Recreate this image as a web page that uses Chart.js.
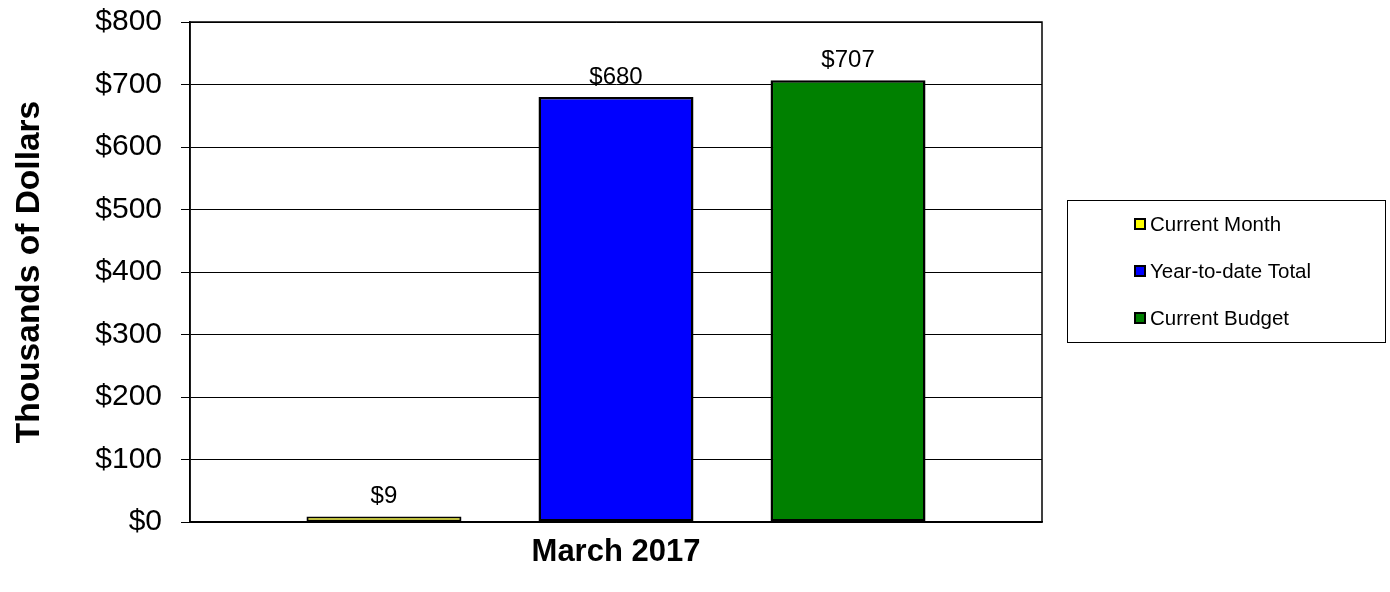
<!DOCTYPE html>
<html>
<head>
<meta charset="utf-8">
<script src="https://cdn.jsdelivr.net/npm/chart.js@4"></script>
<style>
  body { margin: 0; background: #fff; }
  #wrap { width: 1390px; height: 592px; position: relative; }
</style>
</head>
<body>
<div id="wrap"><canvas id="chartbudget"></canvas></div>
<script>
// data
var periodLabels = [''];
var seriesNames = ['Current Month', 'Year-to-date Total', 'Current Budget'];
var seriesValues = [9, 680, 707];
var seriesColors = ['#FFFF00', '#0000FF', '#008000'];
var xTitle = 'March 2017';
var yTitle = 'Thousands of Dollars';
var yTicks = [0, 100, 200, 300, 400, 500, 600, 700, 800];

var fontFam = '"Liberation Sans", Arial, sans-serif';

var datasets = [];
for (var i = 0; i < seriesNames.length; i++) {
    datasets.push({
        label: seriesNames[i],
        data: [seriesValues[i]],
        backgroundColor: seriesColors[i],
        borderColor: '#000',
        borderWidth: i == 0 ? 2 : 2.5,
        borderSkipped: false,
        categoryPercentage: 0.817,
        barPercentage: 0.668
    });
}

// value labels above each bar
var valueLabels = {
    id: 'valueLabels',
    afterDatasetsDraw: function (chart) {
        var ctx = chart.ctx;
        ctx.save();
        ctx.font = '24px ' + fontFam;
        ctx.fillStyle = '#000';
        ctx.textAlign = 'center';
        ctx.textBaseline = 'alphabetic';
        chart.data.datasets.forEach(function (ds, di) {
            var meta = chart.getDatasetMeta(di);
            meta.data.forEach(function (bar, j) {
                ctx.fillText('$' + ds.data[j], bar.x, bar.y - 13);
            });
        });
        ctx.restore();
    }
};

// frame round the plot area (top and right sides)
var plotFrame = {
    id: 'plotFrame',
    beforeDatasetsDraw: function (chart) {
        var a = chart.chartArea, ctx = chart.ctx;
        ctx.save();
        ctx.strokeStyle = '#000';
        ctx.lineWidth = 1.5;
        ctx.strokeRect(a.left, a.top, a.right - a.left, a.bottom - a.top);
        ctx.restore();
    }
};

// boxed legend at the right, like the excel one
var boxLegend = {
    id: 'boxLegend',
    afterDraw: function (chart) {
        var ctx = chart.ctx;
        var bx = 1067, by = 200, bw = 318, bh = 142;
        ctx.save();
        ctx.fillStyle = '#fff';
        ctx.fillRect(bx, by, bw, bh);
        ctx.strokeStyle = '#000';
        ctx.lineWidth = 1;
        ctx.strokeRect(bx + 0.5, by + 0.5, bw, bh);
        ctx.font = '20.5px ' + fontFam;
        ctx.textBaseline = 'middle';
        ctx.textAlign = 'left';
        chart.data.datasets.forEach(function (ds, k) {
            var cy = 224 + k * 47;
            ctx.fillStyle = ds.backgroundColor;
            ctx.fillRect(1135, cy - 5, 10, 10);
            ctx.strokeStyle = '#000';
            ctx.lineWidth = 2;
            ctx.strokeRect(1135, cy - 5, 10, 10);
            ctx.fillStyle = '#000';
            ctx.fillText(ds.label, 1150, cy + 1);
        });
        ctx.restore();
    }
};

var ctx_chart = document.getElementById('chartbudget').getContext('2d');
var chart = new Chart(ctx_chart, {
    type: 'bar',
    data: {
        labels: periodLabels,
        datasets: datasets
    },
    options: {
        responsive: true,
        maintainAspectRatio: false,
        animation: false,
        layout: {
            padding: { left: 0, right: 348, top: 22, bottom: 0 }
        },
        plugins: {
            legend: { display: false },
            tooltip: { enabled: false }
        },
        scales: {
            x: {
                grid: { display: false },
                border: { display: true, color: '#000', width: 1.5 },
                ticks: { display: false },
                title: {
                    display: true,
                    text: xTitle,
                    color: '#000',
                    font: { family: fontFam, size: 31, weight: 'bold' },
                    padding: { top: 0, bottom: 21 }
                },
                afterFit: function (s) { s.height = 70; }
            },
            y: {
                min: 0,
                max: 800,
                afterBuildTicks: function (s) {
                    s.ticks = yTicks.map(function (v) { return { value: v }; });
                },
                grid: { color: '#000', lineWidth: 1, tickLength: 9, tickColor: '#000' },
                border: { display: true, color: '#000', width: 1.5 },
                ticks: {
                    color: '#000',
                    padding: 19,
                    font: { family: fontFam, size: 30 },
                    callback: function (v) { return '$' + v; }
                },
                title: {
                    display: true,
                    text: yTitle,
                    color: '#000',
                    font: { family: fontFam, size: 33.5, weight: 'bold' },
                    padding: { top: 10, bottom: 0 }
                },
                afterFit: function (s) {
                    s.width = 190;
                    s.paddingTop = 0;
                    s.paddingBottom = 0;
                }
            }
        }
    },
    plugins: [plotFrame, valueLabels, boxLegend]
});
</script>
</body>
</html>
